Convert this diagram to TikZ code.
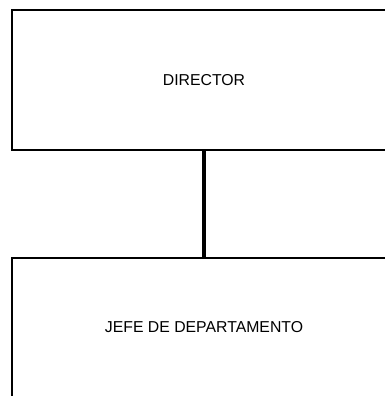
\documentclass[tikz,border=0pt]{standalone}
\usepackage{fontspec}
\setmainfont{Liberation Sans}
\usetikzlibrary{positioning}
\tikzset{cargo/.style = {draw, rectangle, line width = 2pt,
                         minimum width = 384pt, minimum height = 140pt,
                         font = \fontsize{15.8}{19}\selectfont}}
\tikzset{enlace/.style = {line width = 3.4pt}}

\begin{document}
\begin{tikzpicture}[x = 1pt, y = 1pt, node distance = 105.5pt]
      \useasboundingbox (0, 0) rectangle (385, -396);
      \clip (0, 0) rectangle (385, -396);
      \node [cargo] (director) at (204, -80) {DIRECTOR};
      \node [cargo, below = of director] (jefe) {JEFE DE DEPARTAMENTO};
      \draw [enlace] (director.south) -- (jefe.north);
    \end{tikzpicture}
\end{document}
